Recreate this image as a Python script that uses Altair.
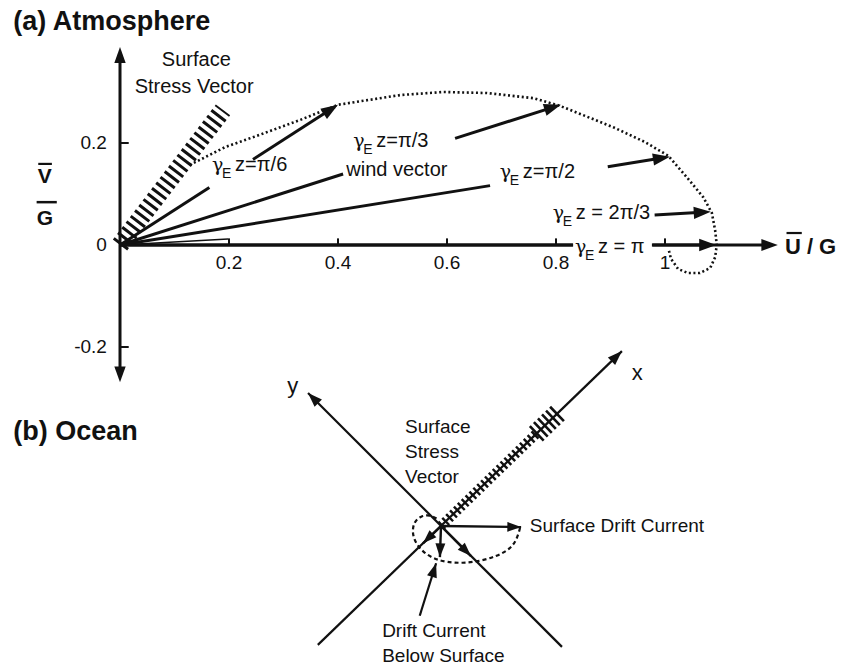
import numpy as np
import pandas as pd
import altair as alt

FONT = "Liberation Sans"
GREEK = "DejaVu Serif"
INK = "#111111"

# Both panels share one frame measured in U/G (x) and V/G (y).
X_DOMAIN = [-0.2202, 1.3248]
Y_DOMAIN = [-0.8294, 0.4804]
W, H = 842, 668
PX_U = W / (X_DOMAIN[1] - X_DOMAIN[0])
PX_V = H / (Y_DOMAIN[1] - Y_DOMAIN[0])

# ---------------- (a) Atmosphere ----------------
# Ekman hodograph of the mean wind (dotted curve)
hodo_u = [0.128, 0.193, 0.251, 0.330, 0.400, 0.514, 0.593, 0.673, 0.758, 0.807,
          0.905, 0.963, 1.006, 1.040, 1.070, 1.086, 1.092, 1.095, 1.092, 1.083,
          1.064, 1.042, 1.024, 1.011, 1.007]
hodo_v = [0.157, 0.192, 0.214, 0.245, 0.275, 0.294, 0.300, 0.298, 0.288, 0.273,
          0.231, 0.202, 0.175, 0.133, 0.094, 0.063, 0.029, 0.000, -0.024, -0.045,
          -0.055, -0.055, -0.047, -0.027, -0.010]

# wind vectors at several heights gamma_E z
wind_phase = ["z=π/6", "z=π/3", "z=π/2", "z = 2π/3", "z = π"]
wind_tip_u = [0.400, 0.809, 1.009, 1.084, 1.094]
wind_tip_v = [0.275, 0.275, 0.173, 0.065, 0.000]
wind_gap_from = [0.41, 0.506, 0.673, 0.183, 0.76]
wind_gap_to = [0.61, 0.760, 0.887, 0.905, 0.893]
wind_inner_w = [3.0, 3.0, 3.0, 1.4, 3.0]
wind_label_u = [0.169, 0.428, 0.697, 0.794, 0.835]
wind_label_v = [0.157, 0.204, 0.143, 0.063, -0.004]

# surface stress vector (hatched)
stress_tip = (0.189, 0.265)

x_ticks = [0.2, 0.4, 0.6, 0.8, 1.0]
x_tick_text = ["0.2", "0.4", "0.6", "0.8", "1"]
y_ticks = [0.2, 0.0, -0.2]
y_tick_text = ["0.2", "0", "-0.2"]

# ---------------- (b) Ocean ----------------
ocean_center = (0.589, -0.551)
ocean_x_axis = [(0.363, -0.784), (0.921, -0.208)]
ocean_y_axis = [(0.811, -0.788), (0.345, -0.290)]
ocean_rail_end = (0.763, -0.371)
ocean_bulb_end = (0.807, -0.326)
# current vectors: surface drift, then deeper levels
drift_tip_u = [0.736, 0.556, 0.587, 0.644]
drift_tip_v = [-0.553, -0.585, -0.612, -0.610]
pointer = [(0.550, -0.727), (0.580, -0.624)]
# Ekman spiral of the ocean current (dashed)
spiral_u = [0.734, 0.728, 0.716, 0.692, 0.661, 0.628, 0.600, 0.578, 0.558, 0.543,
            0.536, 0.539, 0.552, 0.569, 0.582]
spiral_v = [-0.555, -0.578, -0.596, -0.610, -0.620, -0.624, -0.622, -0.616, -0.604,
            -0.586, -0.565, -0.543, -0.531, -0.529, -0.537]


def heading(du, dv):
    """Screen rotation (degrees, clockwise) of a vector given in data units."""
    return float(np.degrees(np.arctan2(-dv * PX_V, du * PX_U)) % 360)


xs = alt.Scale(domain=X_DOMAIN, nice=False, zero=False)
ys = alt.Scale(domain=Y_DOMAIN, nice=False, zero=False)
X = lambda f="u": alt.X(f"{f}:Q", scale=xs, axis=None)
Y = lambda f="v": alt.Y(f"{f}:Q", scale=ys, axis=None)

# ---- solid straight segments ----
rules = []


def seg(a, b, w):
    rules.append(dict(u=a[0], v=a[1], u2=b[0], v2=b[1], w=w))


# atmosphere axes (horizontal axis broken around the gamma_E z = pi label)
seg((0, -0.255), (0, 0.375), 3.0)
seg((0, 0), (0.831, 0), 3.2)
seg((0.976, 0), (1.19, 0), 3.2)
for t in x_ticks:
    seg((t, 0), (t, 0.013), 2.0)
for t in [0.2, -0.2]:
    seg((0, t), (0.016, t), 2.0)

# wind vectors, each broken where its label sits
for tu, tv, g0, g1, wi in zip(wind_tip_u, wind_tip_v, wind_gap_from, wind_gap_to, wind_inner_w):
    seg((0, 0), (tu * g0, tv * g0), wi)
    seg((tu * g1, tv * g1), (tu * 0.985, tv * 0.985), 3.0)

# fraction bars of the axis titles
seg((-0.150, 0.159), (-0.125, 0.159), 2.2)
seg((-0.153, 0.084), (-0.116, 0.084), 2.5)
seg((1.223, 0.0235), (1.251, 0.0235), 2.2)

# ocean axes and currents
seg(ocean_x_axis[0], ocean_x_axis[1], 2.2)
seg(ocean_y_axis[0], ocean_y_axis[1], 2.2)
for du, dv in zip(drift_tip_u, drift_tip_v):
    seg(ocean_center, (du, dv), 2.4)
seg(pointer[0], pointer[1], 2.2)

rules_df = pd.DataFrame(rules)
rule_layer = alt.Chart(rules_df).mark_rule(color=INK, strokeCap="butt").encode(
    x=X(), y=Y(), x2="u2:Q", y2="v2:Q",
    strokeWidth=alt.StrokeWidth("w:Q", scale=None),
)

# ---- hatched stress vectors ----
hatch_df = pd.DataFrame([dict(u=0.0, v=0.0, u2=stress_tip[0], v2=stress_tip[1], w=18)])
hatch_a = alt.Chart(hatch_df).mark_rule(color=INK, strokeDash=[3, 4], strokeCap="butt").encode(
    x=X(), y=Y(), x2="u2:Q", y2="v2:Q", strokeWidth=alt.StrokeWidth("w:Q", scale=None))

rail_df = pd.DataFrame([dict(u=ocean_center[0], v=ocean_center[1],
                             u2=ocean_rail_end[0], v2=ocean_rail_end[1], w=10)])
rail = alt.Chart(rail_df).mark_rule(color=INK, strokeDash=[2.4, 3.0], strokeCap="butt").encode(
    x=X(), y=Y(), x2="u2:Q", y2="v2:Q", strokeWidth=alt.StrokeWidth("w:Q", scale=None))
bulb_df = pd.DataFrame([dict(u=ocean_rail_end[0], v=ocean_rail_end[1],
                             u2=ocean_bulb_end[0], v2=ocean_bulb_end[1], w=20)])
bulb = alt.Chart(bulb_df).mark_rule(color=INK, strokeDash=[2.6, 3.0], strokeCap="butt").encode(
    x=X(), y=Y(), x2="u2:Q", y2="v2:Q", strokeWidth=alt.StrokeWidth("w:Q", scale=None))

# ---- curves ----
hodo_df = pd.DataFrame(dict(u=hodo_u, v=hodo_v, i=range(len(hodo_u))))
hodo = alt.Chart(hodo_df).mark_line(color=INK, strokeWidth=2.6, strokeDash=[2, 2.6]).encode(
    x=X(), y=Y(), order="i:Q")

spiral_df = pd.DataFrame(dict(u=spiral_u, v=spiral_v, i=range(len(spiral_u))))
spiral = alt.Chart(spiral_df).mark_line(color=INK, strokeWidth=2.2, strokeDash=[4, 3],
                                         interpolate="basis").encode(x=X(), y=Y(), order="i:Q")

# ---- arrowheads ----
heads = []


def head(tip, frm, size):
    heads.append(dict(u=tip[0], v=tip[1], a=heading(tip[0] - frm[0], tip[1] - frm[1]), s=size))


head((0, 0.388), (0, 0), 250)
head((0, -0.269), (0, 0), 250)
head((1.207, 0), (0, 0), 270)
for tu, tv in zip(wind_tip_u, wind_tip_v):
    head((tu, tv), (0, 0), 290)
head(ocean_x_axis[1], ocean_x_axis[0], 210)
head(ocean_y_axis[1], ocean_y_axis[0], 210)
for du, dv in zip(drift_tip_u, drift_tip_v):
    head((du, dv), ocean_center, 190)
head(pointer[1], pointer[0], 200)

heads_df = pd.DataFrame(heads)
head_layer = alt.Chart(heads_df).mark_point(
    shape="M0,0L-2,-0.72L-2,0.72Z", filled=True, color=INK, opacity=1, strokeWidth=0
).encode(x=X(), y=Y(), angle=alt.Angle("a:Q", scale=None), size=alt.Size("s:Q", scale=None))


# ---- text ----
def text_layer(rows, align="left", weight="normal", dx=0, dy=0, font=FONT):
    df = pd.DataFrame(rows, columns=["u", "v", "t", "s"])
    return alt.Chart(df).mark_text(
        align=align, baseline="middle", font=font, fontWeight=weight, color=INK, dx=dx, dy=dy
    ).encode(x=X(), y=Y(), text="t:N", size=alt.Size("s:Q", scale=None))


titles = text_layer([(-0.196, 0.437, "(a) Atmosphere", 27),
                     (-0.196, -0.367, "(b) Ocean", 27)], weight="bold")

gamma = text_layer([(u, v, "γ", 19) for u, v in zip(wind_label_u, wind_label_v)], font=GREEK)
sub_e = text_layer([(u, v, "E", 14) for u, v in zip(wind_label_u, wind_label_v)], dx=10, dy=9)
phase = text_layer([(u, v, p, 20) for u, v, p in zip(wind_label_u, wind_label_v, wind_phase)], dx=23)

center_txt = text_layer(
    [(0.140, 0.363, "Surface", 20), (0.136, 0.310, "Stress Vector", 20),
     (0.508, 0.147, "wind vector", 20),
     (0.949, -0.251, "x", 22), (0.317, -0.276, "y", 22)]
    + [(t, -0.035, s, 19) for t, s in zip(x_ticks, x_tick_text)],
    align="center")

right_txt = text_layer([(-0.024, t, s, 19) for t, s in zip(y_ticks, y_tick_text)], align="right")

axis_titles_c = text_layer([(-0.138, 0.133, "V", 21), (-0.138, 0.051, "G", 21)],
                           align="center", weight="bold")
axis_titles_l = text_layer([(1.220, -0.004, "U / G", 22)], weight="bold")

ocean_txt = text_layer(
    [(0.523, -0.357, "Surface", 19), (0.523, -0.406, "Stress", 19), (0.523, -0.455, "Vector", 19),
     (0.752, -0.551, "Surface Drift Current", 19),
     (0.481, -0.757, "Drift Current", 19), (0.481, -0.806, "Below Surface", 19)])

chart = alt.layer(
    hodo, spiral, hatch_a, rail, bulb, rule_layer, head_layer,
    titles, gamma, sub_e, phase, center_txt, right_txt, axis_titles_c, axis_titles_l, ocean_txt,
).properties(
    width=W, height=H, autosize="none", padding=0, background="white"
).configure_view(stroke=None)

chart.save("out.html", embed_options={"renderer": "svg", "actions": False})
